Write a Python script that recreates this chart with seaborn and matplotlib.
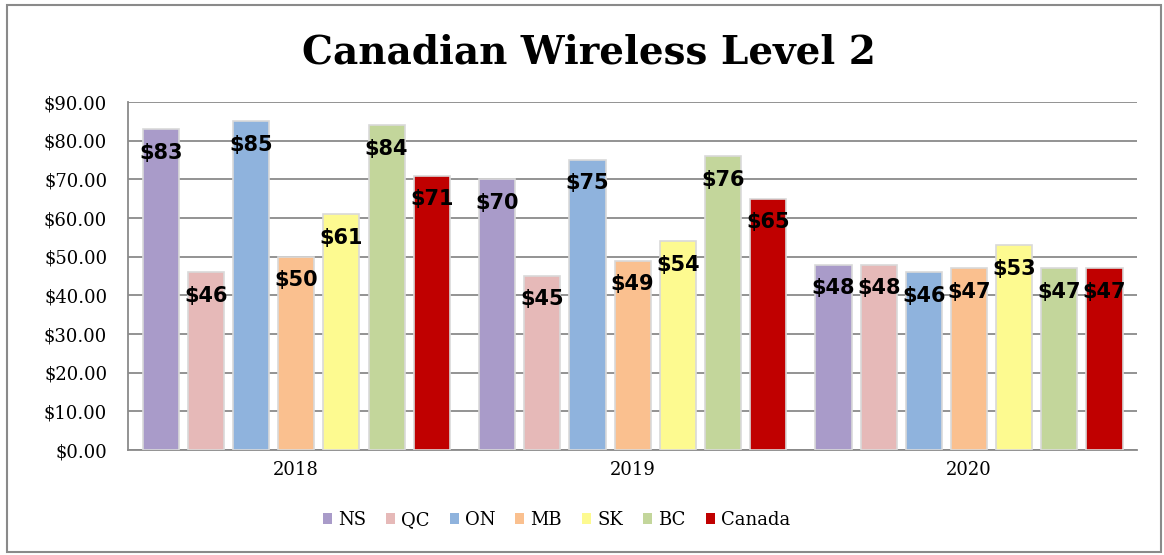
import pandas as pd
import numpy as np
import matplotlib
matplotlib.use('Agg')
import matplotlib.pyplot as plt
import seaborn as sns
from matplotlib.patches import Rectangle

# Data
years = ['2018', '2019', '2020']
provinces = ['NS', 'QC', 'ON', 'MB', 'SK', 'BC', 'Canada']
ns = [83, 70, 48]
qc = [46, 45, 48]
on = [85, 75, 46]
mb = [50, 49, 47]
sk = [61, 54, 53]
bc = [84, 76, 47]
canada = [71, 65, 47]
colors = ['#a99bc9', '#e6b9b8', '#8fb3dd', '#fac08f', '#fdfa90', '#c3d69b', '#c00000']

series = [ns, qc, on, mb, sk, bc, canada]
rows = []
for prov, vals in zip(provinces, series):
    for yr, v in zip(years, vals):
        rows.append({'year': yr, 'province': prov, 'price': v})
df = pd.DataFrame(rows)

sns.set_style('white')
plt.rcParams['text.color'] = 'black'
plt.rcParams['xtick.labelcolor'] = 'black'
plt.rcParams['ytick.labelcolor'] = 'black'
serif = ['DejaVu Serif']

fig = plt.figure(figsize=(11.64, 5.55), dpi=100)
ax = fig.add_axes([0.110, 0.189, 0.867, 0.627])

sns.barplot(data=df, x='year', y='price', hue='province', order=years,
            hue_order=provinces, palette=colors, saturation=1, width=0.94, gap=0.2,
            edgecolor='#d9d9d9', linewidth=1.2, errorbar=None, ax=ax,
            legend=True, zorder=3)

# value labels inside the bar tops
for cont, vals in zip(ax.containers, series):
    ax.bar_label(cont, labels=['$%d' % v for v in vals], padding=-24,
                 fontsize=15, fontweight='bold', family='DejaVu Sans',
                 color='black', zorder=5)

ax.set_ylim(0, 90)
ax.set_xlim(-0.5, 2.5)
ax.set_yticks(np.arange(0, 91, 10))
ax.set_yticklabels(['$%.2f' % t for t in np.arange(0, 91, 10)],
                   family=serif, fontsize=13)
ax.set_xticks(range(3))
ax.set_xticklabels(years, family=serif, fontsize=13)
ax.set_xticks([-0.5, 0.5, 1.5, 2.5], minor=True)
ax.tick_params(axis='x', which='major', length=0, pad=8)
ax.tick_params(axis='x', which='minor', length=6, color='#7f7f7f', direction='out')
ax.tick_params(axis='y', length=5, color='#7f7f7f', direction='out', pad=10)
ax.set_xlabel('')
ax.set_ylabel('')
ax.yaxis.grid(True, color='#8a8a8a', linewidth=1.3, zorder=0)
ax.set_axisbelow(True)
for s in ['top', 'right']:
    ax.spines[s].set_visible(False)
for s in ['left', 'bottom']:
    ax.spines[s].set_color('#8a8a8a')
    ax.spines[s].set_linewidth(1.3)

handles, labels = ax.get_legend_handles_labels()
ax.get_legend().remove()
for h in handles:
    h.set_edgecolor('none')
fig.legend(handles, labels, loc='center', bbox_to_anchor=(0.478, 0.063),
           ncol=7, frameon=False, handlelength=0.5, handleheight=0.5,
           handletextpad=0.35, columnspacing=1.1,
           prop={'family': serif, 'size': 13})

fig.text(0.506, 0.905, 'Canadian Wireless Level 2', ha='center', va='center',
         family=serif, fontsize=28, fontweight='bold', color='black')

# outer chart border
fig.patches.append(Rectangle((0.006, 0.006), 0.991, 0.985, transform=fig.transFigure,
                             fill=False, edgecolor='#8a8a8a', linewidth=1.5))

fig.savefig('out.png', dpi=100)
